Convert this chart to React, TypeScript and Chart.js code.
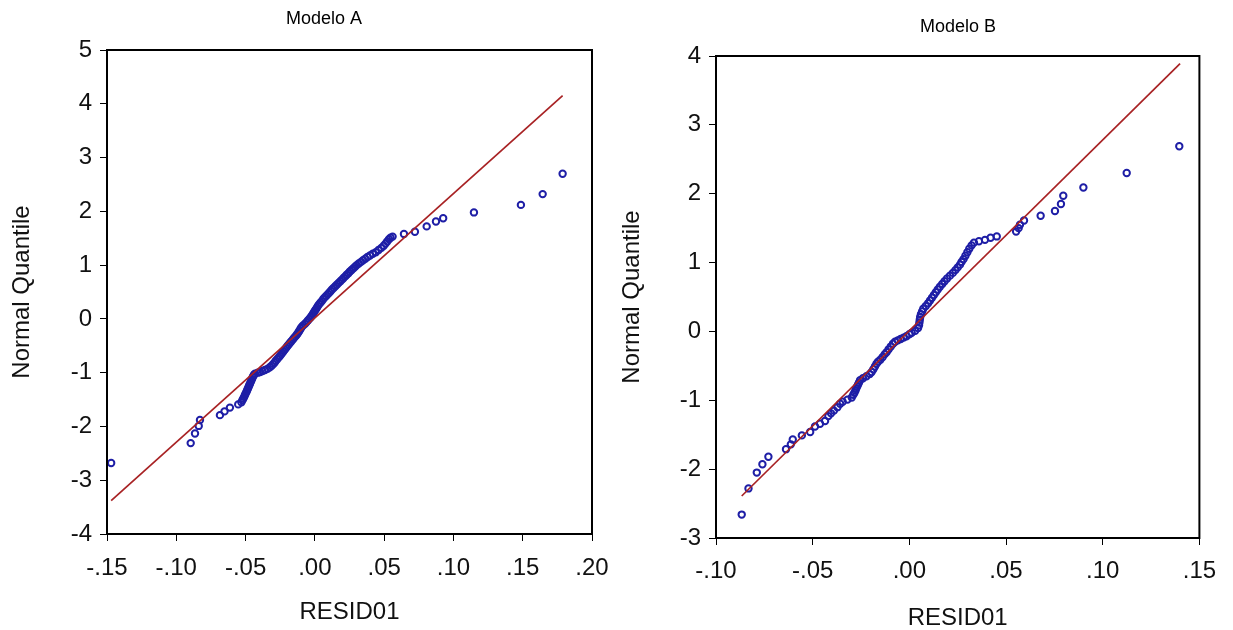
import React, { useEffect, useRef } from 'react';
import { Chart, registerables } from 'chart.js';

Chart.register(...registerables);

// ---------- Modelo A ----------
const residA = [
  -0.147, -0.0896, -0.0865, -0.0838, -0.0829, -0.0685, -0.0652, -0.0613, -0.0553, -0.053,
  -0.0522, -0.0516, -0.051, -0.0505, -0.05, -0.0494, -0.0489, -0.0484, -0.0479, -0.0474,
  -0.0469, -0.0464, -0.0459, -0.0454, -0.0449, -0.0444, -0.0439, -0.0432,
  -0.0412, -0.0395, -0.0378, -0.036, -0.0342,
  -0.0325, -0.0312, -0.03, -0.029, -0.0282, -0.0272, -0.0262, -0.0252, -0.0243, -0.0235,
  -0.0226, -0.0217, -0.0208, -0.0199, -0.019, -0.018, -0.0171, -0.0161, -0.0152, -0.0142,
  -0.0132, -0.0124, -0.0116, -0.0109, -0.0102, -0.0095, -0.0084, -0.0071, -0.006, -0.005,
  -0.004, -0.003, -0.0022, -0.0014, -0.0007,
  0.0, 0.0008, 0.0015, 0.0022, 0.003, 0.004, 0.005, 0.0061, 0.0071, 0.0083,
  0.0094, 0.0105, 0.0115, 0.0125, 0.0137, 0.0149, 0.016, 0.0172, 0.0184, 0.0196,
  0.0207, 0.0219, 0.023, 0.0242, 0.0253, 0.0265, 0.0278, 0.029, 0.0302,
  0.0317, 0.0333, 0.0348, 0.0364, 0.038, 0.0398, 0.0418, 0.044, 0.046, 0.048,
  0.0497, 0.051, 0.0522, 0.0535, 0.0546,
  0.0561, 0.0643, 0.0722, 0.0807, 0.0874, 0.0926, 0.1148, 0.1487, 0.1644, 0.1788,
];
const quantA = [
  -2.68, -2.31, -2.13, -1.99, -1.88, -1.79, -1.72, -1.65, -1.59, -1.55,
  -1.51, -1.48, -1.45, -1.42, -1.39, -1.36, -1.33, -1.3, -1.27, -1.24,
  -1.21, -1.18, -1.15, -1.12, -1.09, -1.06, -1.04, -1.02,
  -1.0, -0.99, -0.97, -0.95, -0.93,
  -0.9, -0.87, -0.84, -0.81, -0.78, -0.75, -0.72, -0.69, -0.66, -0.63,
  -0.6, -0.57, -0.54, -0.51, -0.48, -0.45, -0.42, -0.39, -0.36, -0.33,
  -0.3, -0.27, -0.24, -0.21, -0.18, -0.15, -0.12, -0.09, -0.06, -0.03,
  0.0, 0.03, 0.06, 0.09, 0.12,
  0.15, 0.18, 0.21, 0.24, 0.27, 0.3, 0.33, 0.37, 0.4, 0.43,
  0.46, 0.49, 0.52, 0.55, 0.58, 0.61, 0.64, 0.67, 0.7, 0.73,
  0.76, 0.79, 0.82, 0.85, 0.88, 0.91, 0.94, 0.97, 1.0,
  1.03, 1.06, 1.09, 1.12, 1.15, 1.18, 1.21, 1.24, 1.28, 1.32,
  1.36, 1.4, 1.44, 1.48, 1.51,
  1.53, 1.58, 1.62, 1.72, 1.81, 1.87, 1.98, 2.12, 2.32, 2.7,
];
const lineResidA = [-0.147, 0.1788];
const lineQuantA = [-3.38, 4.15];
const xTicksA = [-0.15, -0.1, -0.05, 0.0, 0.05, 0.1, 0.15, 0.2];
const yTicksA = [-4, -3, -2, -1, 0, 1, 2, 3, 4, 5];

// ---------- Modelo B ----------
const residB = [
  -0.0867, -0.0832, -0.0789, -0.076, -0.0729, -0.0638, -0.0613, -0.0603, -0.0556, -0.0513,
  -0.0488, -0.0462, -0.0436, -0.0419, -0.0405, -0.039, -0.0372, -0.0358, -0.0345, -0.032,
  -0.0298, -0.029,
  -0.0284, -0.0279, -0.0275, -0.027, -0.0265, -0.026, -0.0255, -0.024, -0.0222, -0.0205,
  -0.0195, -0.0186, -0.0178, -0.017, -0.0162, -0.015, -0.0138, -0.0127, -0.0117, -0.0107,
  -0.0096, -0.0085, -0.0074, -0.006, -0.0045, -0.003, -0.0015, 0.0, 0.0012, 0.003,
  0.0045, 0.005, 0.0052, 0.0054, 0.0056, 0.006, 0.0066, 0.0072, 0.0085, 0.0097,
  0.0107, 0.0117, 0.0127, 0.0137, 0.0147, 0.0158, 0.017, 0.0182, 0.0195, 0.021,
  0.0225, 0.0238, 0.025, 0.0262, 0.027, 0.028, 0.029, 0.03, 0.031, 0.0322,
  0.0334, 0.036, 0.0391, 0.042, 0.0452,
  0.0552, 0.0565, 0.0572, 0.0593, 0.0679, 0.0753, 0.0784, 0.0796, 0.09, 0.1124, 0.1396,
];
const quantB = [
  -2.66, -2.28, -2.05, -1.93, -1.82, -1.71, -1.64, -1.57, -1.51, -1.46,
  -1.38, -1.34, -1.3, -1.23, -1.19, -1.15, -1.1, -1.05, -1.02, -0.99,
  -0.96, -0.92,
  -0.89, -0.86, -0.83, -0.8, -0.77, -0.74, -0.71, -0.68, -0.65, -0.62,
  -0.59, -0.55, -0.51, -0.47, -0.44, -0.41, -0.37, -0.33, -0.3, -0.26,
  -0.22, -0.18, -0.15, -0.13, -0.11, -0.09, -0.07, -0.04, -0.02, 0.01,
  0.05, 0.09, 0.13, 0.17, 0.21, 0.25, 0.29, 0.33, 0.37, 0.41,
  0.45, 0.49, 0.53, 0.57, 0.61, 0.65, 0.69, 0.73, 0.77, 0.81,
  0.85, 0.89, 0.93, 0.97, 1.01, 1.05, 1.1, 1.15, 1.2, 1.25,
  1.29, 1.31, 1.33, 1.36, 1.38,
  1.45, 1.5, 1.55, 1.61, 1.68, 1.75, 1.85, 1.97, 2.09, 2.3, 2.69,
];
const lineResidB = [-0.0867, 0.14];
const lineQuantB = [-2.39, 3.89];
const xTicksB = [-0.1, -0.05, 0.0, 0.05, 0.1, 0.15];
const yTicksB = [-3, -2, -1, 0, 1, 2, 3, 4];

const POINT_COLOR = '#1e1ea6';
const LINE_COLOR = '#a82224';
const FONT = "'Liberation Sans', Arial, Helvetica, sans-serif";

const framePlugin = {
  id: 'frameBox',
  afterDraw(chart: any) {
    const { ctx, chartArea: a } = chart;
    ctx.save();
    ctx.strokeStyle = '#000';
    ctx.lineWidth = 2;
    ctx.strokeRect(a.left, a.top, a.right - a.left, a.bottom - a.top);
    ctx.restore();
  },
};

function fmtX(v: number) {
  const r = Math.round(v * 100) / 100;
  const s = Math.abs(r).toFixed(2).replace(/^0/, '');
  return (r < 0 ? '-' : '') + s;
}

interface Spec {
  title: string;
  resid: number[];
  quant: number[];
  lineResid: number[];
  lineQuant: number[];
  xTicks: number[];
  yTicks: number[];
  titleTop: number;
  titleBottom: number;
  yAxisWidth: number;
  rightWidth: number;
  xAxisHeight: number;
  xTickPad: number;
  xTitleBottom: number;
  yTitleTop: number;
}

function buildConfig(p: Spec): any {
  const points = p.resid.map((x, i) => ({ x, y: p.quant[i] }));
  const line = p.lineResid.map((x, i) => ({ x, y: p.lineQuant[i] }));
  return {
    type: 'scatter',
    data: {
      datasets: [
        {
          label: 'line',
          data: line,
          showLine: true,
          borderColor: LINE_COLOR,
          borderWidth: 1.7,
          pointRadius: 0,
          pointHoverRadius: 0,
          fill: false,
          xAxisID: 'x',
          yAxisID: 'y',
        },
        {
          label: 'points',
          data: points,
          pointStyle: 'circle',
          pointRadius: 3.2,
          pointBorderWidth: 2,
          borderColor: POINT_COLOR,
          pointBorderColor: POINT_COLOR,
          backgroundColor: 'rgba(0,0,0,0)',
          pointBackgroundColor: 'rgba(0,0,0,0)',
          xAxisID: 'x',
          yAxisID: 'y',
        },
      ],
    },
    options: {
      animation: false,
      responsive: false,
      maintainAspectRatio: false,
      events: [],
      layout: { padding: 0 },
      plugins: {
        legend: { display: false },
        tooltip: { enabled: false },
        title: {
          display: true,
          text: p.title,
          color: '#000',
          font: { family: FONT, size: 18, weight: 'normal', lineHeight: 1.2 },
          padding: { top: p.titleTop, bottom: p.titleBottom },
        },
      },
      scales: {
        x: {
          type: 'linear',
          position: 'bottom',
          min: p.xTicks[0],
          max: p.xTicks[p.xTicks.length - 1],
          afterBuildTicks: (s: any) => {
            s.ticks = p.xTicks.map((v) => ({ value: v }));
          },
          afterFit: (s: any) => {
            s.height = p.xAxisHeight;
          },
          grid: { drawOnChartArea: false, drawTicks: true, tickLength: 7, color: '#000', lineWidth: 1 },
          border: { display: false },
          ticks: {
            callback: (v: any) => fmtX(Number(v)),
            color: '#111',
            font: { family: FONT, size: 24 },
            padding: p.xTickPad,
            maxRotation: 0,
            autoSkip: false,
          },
          title: {
            display: true,
            text: 'RESID01',
            color: '#111',
            font: { family: FONT, size: 24, lineHeight: 1 },
            padding: { top: 0, bottom: p.xTitleBottom },
          },
        },
        y: {
          type: 'linear',
          position: 'left',
          min: p.yTicks[0],
          max: p.yTicks[p.yTicks.length - 1],
          afterBuildTicks: (s: any) => {
            s.ticks = p.yTicks.map((v) => ({ value: v }));
          },
          afterFit: (s: any) => {
            s.width = p.yAxisWidth;
          },
          grid: { drawOnChartArea: false, drawTicks: true, tickLength: 7, color: '#000', lineWidth: 1 },
          border: { display: false },
          ticks: {
            callback: (v: any) => String(Math.round(Number(v))),
            color: '#111',
            font: { family: FONT, size: 24 },
            padding: 8,
            autoSkip: false,
          },
          title: {
            display: true,
            text: 'Normal Quantile',
            color: '#111',
            font: { family: FONT, size: 24, lineHeight: 1 },
            padding: { top: p.yTitleTop, bottom: 0 },
          },
        },
        yR: {
          type: 'linear',
          axis: 'y',
          position: 'right',
          min: 0,
          max: 1,
          grid: { display: false, drawTicks: false },
          border: { display: false },
          ticks: { display: false },
          afterFit: (s: any) => {
            s.width = p.rightWidth;
          },
        },
      },
    },
    plugins: [framePlugin],
  };
}

const specA: Spec = {
  title: 'Modelo A',
  resid: residA,
  quant: quantA,
  lineResid: lineResidA,
  lineQuant: lineQuantA,
  xTicks: xTicksA,
  yTicks: yTicksA,
  titleTop: 8,
  titleBottom: 20.4,
  yAxisWidth: 107,
  rightWidth: 56,
  xAxisHeight: 96,
  xTickPad: 13,
  xTitleBottom: 6,
  yTitleTop: 10,
};

const specB: Spec = {
  title: 'Modelo B',
  resid: residB,
  quant: quantB,
  lineResid: lineResidB,
  lineQuant: lineQuantB,
  xTicks: xTicksB,
  yTicks: yTicksB,
  titleTop: 16,
  titleBottom: 18.4,
  yAxisWidth: 100,
  rightWidth: 100.6,
  xAxisHeight: 92,
  xTickPad: 12,
  xTitleBottom: 0,
  yTitleTop: 4,
};

function Panel({ spec, left, width }: { spec: Spec; left: number; width: number }) {
  const ref = useRef<HTMLCanvasElement | null>(null);
  useEffect(() => {
    if (!ref.current) return;
    const chart = new Chart(ref.current, buildConfig(spec));
    return () => chart.destroy();
  }, [spec]);
  return (
    <canvas
      ref={ref}
      width={width}
      height={630}
      style={{ position: 'absolute', left, top: 0, width, height: 630, display: 'block' }}
    />
  );
}

export default function App() {
  return (
    <div
      style={{
        position: 'fixed',
        left: 0,
        top: 0,
        width: 1233,
        height: 630,
        overflow: 'hidden',
        background: '#fff',
      }}
    >
      <Panel spec={specA} left={0} width={648} />
      <Panel spec={specB} left={616} width={684} />
    </div>
  );
}
